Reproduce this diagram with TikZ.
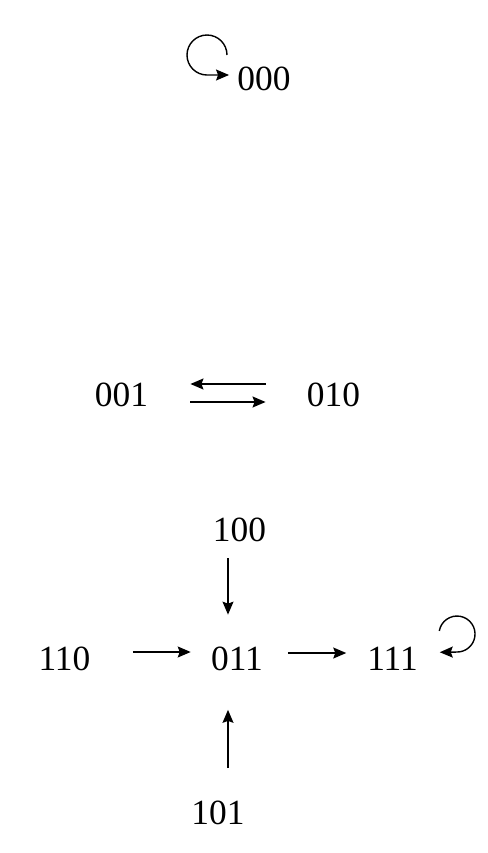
\documentclass[tikz,border=0pt]{standalone}
\usepackage{fontspec}
\setmainfont{Liberation Serif}
\usetikzlibrary{arrows.meta}

\begin{document}
\begin{tikzpicture}[x=0.5pt, y=-0.5pt, >={Stealth[length=6.5pt,width=5.5pt,inset=1pt]},
    font=\fontsize{17.7}{20}\selectfont,
    state/.style={inner sep=0pt},
    link/.style={->, line width=0.7pt}]
  \useasboundingbox (0,0) rectangle (488,853);
  \node[state] (n000) at (264,78.5) {000};
  \node[state] (n001) at (121.5,395) {001};
  \node[state] (n010) at (333.5,395) {010};
  \node[state] (n100) at (239.5,530) {100};
  \node[state] (n110) at (64.5,658.5) {110};
  \node[state] (n011) at (237,658.5) {011};
  \node[state] (n111) at (392.5,658.5) {111};
  \node[state] (n101) at (218,812.5) {101};
  \coordinate (s000) at (227,55);
  \coordinate (s111) at (439.3,630.9);
  % self loops
  \draw[link, shorten >=4pt] (s000) arc[start angle=0, end angle=270, radius=10pt] -- ([yshift=1.75pt]n000.west);
  \draw[link, shorten >=10.8pt] (s111) arc[start angle=170, end angle=-90, radius=9pt] -- ([yshift=3pt]n111.east);
  % 001 <-> 010
  \draw[link, shorten <=20.5pt, shorten >=21pt] ([yshift=5.5pt]n010.west) -- ([yshift=5.5pt]n001.east);
  \draw[link, shorten <=21pt, shorten >=20.5pt] ([yshift=-3.5pt]n001.east) -- ([yshift=-3.5pt]n010.west);
  % into 011
  \draw[link, shorten <=8pt, shorten >=15.75pt] ([xshift=-5.75pt]n100.south) -- ([xshift=-4.5pt]n011.north);
  \draw[link, shorten <=16pt, shorten >=19.5pt] ([xshift=5pt]n101.north) -- ([xshift=-4.5pt]n011.south);
  \draw[link, shorten <=21pt, shorten >=10pt] ([yshift=3.25pt]n110.east) -- ([yshift=3.25pt]n011.west);
  \draw[link, shorten <=12.3pt, shorten >=10.3pt] ([yshift=2.75pt]n011.east) -- ([yshift=2.75pt]n111.west);
\end{tikzpicture}
\end{document}
